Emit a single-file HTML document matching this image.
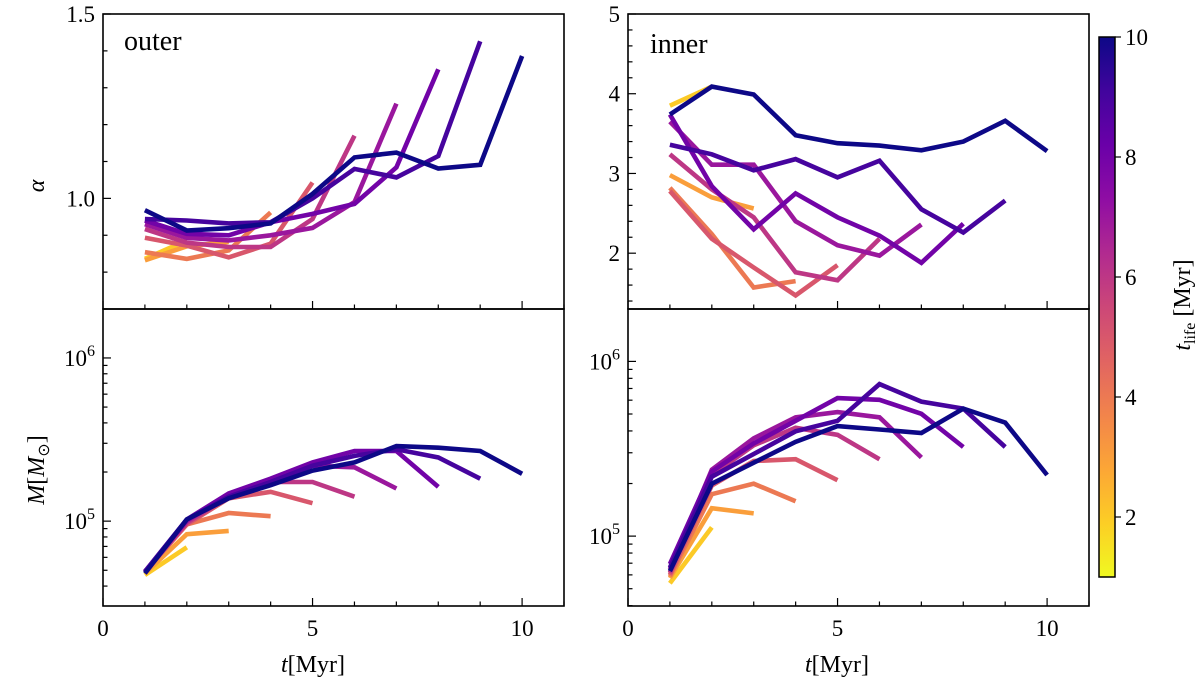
<!DOCTYPE html>
<html><head><meta charset="utf-8">
<style>
html,body{margin:0;padding:0;background:#fff;}
svg{display:block;font-family:"Liberation Serif",serif;}
</style></head>
<body>
<svg id="fig" width="1200" height="689" viewBox="0 0 1200 689" xmlns="http://www.w3.org/2000/svg">
<defs>
<linearGradient id="cbgrad" x1="0" y1="1" x2="0" y2="0">
<stop offset="0" stop-color="#f0f921"/><stop offset="0.1" stop-color="#fcce25"/><stop offset="0.2" stop-color="#fca636"/><stop offset="0.3" stop-color="#f2844b"/><stop offset="0.4" stop-color="#e16462"/><stop offset="0.5" stop-color="#cc4778"/><stop offset="0.6" stop-color="#b12a90"/><stop offset="0.7" stop-color="#8f0da4"/><stop offset="0.8" stop-color="#6a00a8"/><stop offset="0.9" stop-color="#41049d"/><stop offset="1" stop-color="#0d0887"/>
</linearGradient>
</defs>
</svg>
<script>
// lifetimes of each series (Myr)
const tlife = [2,3,4,5,6,7,8,9,10];
// outer alpha
const alphaOuter = [
 [0.836,0.886],
 [0.832,0.870,0.882],
 [0.854,0.836,0.859,0.962],
 [0.893,0.872,0.840,0.877,1.043],
 [0.917,0.880,0.868,0.868,0.944,1.170],
 [0.930,0.893,0.886,0.900,0.920,0.990,1.257],
 [0.940,0.904,0.900,0.935,0.958,0.985,1.084,1.350],
 [0.944,0.940,0.932,0.935,1.000,1.080,1.057,1.115,1.426],
 [0.968,0.913,0.919,0.932,1.012,1.111,1.124,1.081,1.091,1.386]
];
// inner alpha
const alphaInner = [
 [3.85,4.09],
 [2.98,2.70,2.56],
 [2.82,2.24,1.57,1.65],
 [2.78,2.18,1.82,1.47,1.85],
 [3.24,2.80,2.45,1.76,1.66,2.18],
 [3.65,3.11,3.11,2.40,2.10,1.97,2.36],
 [3.74,2.84,2.30,2.75,2.45,2.22,1.88,2.37],
 [3.36,3.24,3.04,3.18,2.95,3.16,2.55,2.26,2.66],
 [3.74,4.09,3.99,3.48,3.38,3.35,3.29,3.40,3.66,3.28]
];
// log10 mass, outer
const logMOuter = [
 [4.67,4.84],
 [4.68,4.92,4.94],
 [4.69,4.98,5.05,5.03],
 [4.69,4.98,5.14,5.18,5.11],
 [4.69,4.99,5.15,5.24,5.24,5.15],
 [4.69,5.00,5.16,5.25,5.34,5.33,5.20],
 [4.69,5.01,5.17,5.26,5.36,5.43,5.43,5.21],
 [4.69,5.01,5.15,5.24,5.34,5.40,5.44,5.39,5.26],
 [4.68,5.01,5.14,5.22,5.31,5.36,5.46,5.45,5.43,5.29]
];
// log10 mass, inner
const logMInner = [
 [4.73,5.05],
 [4.76,5.16,5.13],
 [4.77,5.24,5.30,5.20],
 [4.78,5.29,5.43,5.44,5.32],
 [4.79,5.35,5.52,5.62,5.58,5.44],
 [4.81,5.38,5.56,5.68,5.71,5.68,5.45],
 [4.84,5.37,5.53,5.66,5.79,5.78,5.70,5.51],
 [4.82,5.34,5.47,5.60,5.66,5.87,5.77,5.73,5.51],
 [4.80,5.30,5.42,5.54,5.63,5.61,5.59,5.73,5.65,5.35]
];
const cbTicks = [2,4,6,8,10];

const NS="http://www.w3.org/2000/svg";
const svg=document.getElementById('fig');
function mk(tag,attrs,parent){const e=document.createElementNS(NS,tag);for(const k in attrs)e.setAttribute(k,attrs[k]);(parent||svg).appendChild(e);return e;}
const stops=[[0,[13,8,135]],[0.1,[65,4,157]],[0.2,[106,0,168]],[0.3,[143,13,164]],[0.4,[177,42,144]],[0.5,[204,71,120]],[0.6,[225,100,98]],[0.7,[242,132,75]],[0.8,[252,166,54]],[0.9,[252,206,37]],[1,[240,249,33]]];
function plasma(v){v=Math.max(0,Math.min(1,v));for(let i=0;i<stops.length-1;i++){const a=stops[i],b=stops[i+1];if(v<=b[0]){const f=(v-a[0])/(b[0]-a[0]);const c=a[1].map((x,j)=>Math.round(x+(b[1][j]-x)*f));return `rgb(${c[0]},${c[1]},${c[2]})`;}}return 'rgb(240,249,33)';}

function panel(name,x0,x1,y0,y1,ymin,ymax,logy,data,opts){
  const g=mk('g',{});
  
  
  const X=t=>x0+(t/11)*(x1-x0);
  const Y=v=>y1-(v-ymin)/(ymax-ymin)*(y1-y0);
  data.forEach((s,i)=>{
    const pts=s.map((v,j)=>X(j+1).toFixed(1)+','+Y(v).toFixed(1)).join(' ');
    const pl=mk('polyline',{points:pts,fill:'none',stroke:plasma((10-tlife[i])/9),'stroke-width':4.6,'stroke-linejoin':'miter'},g);
    
    
  });
  mk('rect',{x:x0,y:y0,width:x1-x0,height:y1-y0,fill:'none',stroke:'#000','stroke-width':1.6},g);
  for(let t=0;t<=11;t++){const major=t%5===0;mk('line',{x1:X(t),x2:X(t),y1:y1,y2:y1-(major?8:4.5),stroke:'#000','stroke-width':1.2},g);
    if(major&&opts.xlabels){const tx=mk('text',{x:X(t),y:y1+30,'text-anchor':'middle','font-size':23},g);tx.textContent=t;}}
  opts.yticks.forEach(tk=>{const yy=Y(tk.v);if(yy<y0-0.5||yy>y1+0.5)return;mk('line',{x1:x0,x2:x0+(tk.m?8:4.5),y1:yy,y2:yy,stroke:'#000','stroke-width':1.2},g);
    if(tk.m&&tk.l){const tx=mk('text',{x:x0-8,y:yy+8,'text-anchor':'end','font-size':23},g);
      if(tk.l==='exp'){tx.textContent='10';const s=mk('tspan',{dy:-10,'font-size':16},tx);s.textContent=String(tk.v);}else tx.textContent=tk.l;}});
  return {g,X,Y};
}
function linTicks(a,b,step,majors,labels){const r=[];for(let v=a;v<=b+1e-9;v+=step){const vv=Math.round(v*100)/100;const idx=majors.findIndex(m=>Math.abs(m-vv)<1e-6);r.push({v:vv,m:idx>=0,l:idx>=0?labels[idx]:null});}return r;}
function logTicks(lo,hi){const r=[];for(let d=Math.floor(lo);d<=Math.ceil(hi);d++){for(let k=1;k<10;k++){const v=d+Math.log10(k);if(v<lo||v>hi)continue;r.push({v:v,m:k===1,l:k===1?'exp':null});}}return r;}

const LX0=103,LX1=564,RX0=628,RX1=1089,TY0=14,TY1=309,BY0=309,BY1=606;
panel('panel-outer-alpha',LX0,LX1,TY0,TY1,0.7,1.5,false,alphaOuter,{yticks:linTicks(0.7,1.5,0.1,[1.0,1.5],['1.0','1.5'])});
panel('panel-inner-alpha',RX0,RX1,TY0,TY1,1.3,5.0,false,alphaInner,{yticks:linTicks(1.4,5.0,0.2,[2,3,4,5],['2','3','4','5'])});
panel('panel-outer-mass',LX0,LX1,BY0,BY1,4.48,6.3,true,logMOuter,{xlabels:true,yticks:logTicks(4.48,6.3)});
panel('panel-inner-mass',RX0,RX1,BY0,BY1,4.6,6.3,true,logMInner,{xlabels:true,yticks:logTicks(4.6,6.3)});

function txt(name,attrs,content){const t=mk('text',attrs);t.innerHTML=content;return t;}
txt('label-outer',{x:124,y:50,'font-size':28},'outer');
txt('label-inner',{x:650,y:53,'font-size':28},'inner');
txt('y-axis-title-alpha',{x:0,y:0,'font-size':24,'font-style':'italic',transform:'translate(44,186) rotate(-90)','text-anchor':'middle'},'α');
txt('y-axis-title-mass',{x:0,y:0,'font-size':24,transform:'translate(44,470) rotate(-90)','text-anchor':'middle'},'<tspan font-style="italic">M</tspan>[<tspan font-style="italic">M</tspan><tspan font-size="16" dy="5">⊙</tspan><tspan dy="-5">]</tspan>');
txt('x-axis-title-left',{x:313,y:672,'font-size':24,'text-anchor':'middle'},'<tspan font-style="italic">t</tspan>[Myr]');
txt('x-axis-title-right',{x:837,y:672,'font-size':24,'text-anchor':'middle'},'<tspan font-style="italic">t</tspan>[Myr]');

const cb=mk('g',{});


const CBX=1099,CBW=16,CBY0=37,CBY1=577;
mk('rect',{x:CBX,y:CBY0,width:CBW,height:CBY1-CBY0,fill:'url(#cbgrad)',stroke:'#000','stroke-width':1.5},cb);
const CY=v=>CBY1-(v-1)/9*(CBY1-CBY0);
cbTicks.forEach(v=>{mk('line',{x1:CBX+CBW,x2:CBX+CBW+6,y1:CY(v),y2:CY(v),stroke:'#000','stroke-width':1.2},cb);const t=mk('text',{x:CBX+CBW+10,y:CY(v)+8,'font-size':23},cb);t.textContent=v;});
txt('colorbar-title',{x:0,y:0,'font-size':24,transform:'translate(1190,305) rotate(-90)','text-anchor':'middle'},'<tspan font-style="italic">t</tspan><tspan font-size="16" dy="5">life</tspan><tspan dy="-5"> [Myr]</tspan>');
</script>
</body></html>
